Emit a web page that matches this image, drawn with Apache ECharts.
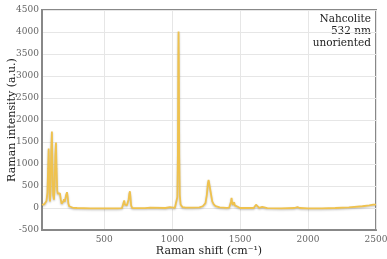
<!DOCTYPE html>
<html><head><meta charset="utf-8">
<script src="https://cdn.jsdelivr.net/npm/echarts@6/dist/echarts.min.js"></script>
<style>html,body{margin:0;padding:0;background:#fff}#c{width:387px;height:259px}</style>
</head><body><div id="c"></div>
<script>
// Raman shift (cm-1)
const shift = [42,60,75,82,87,91,95,98,101,105,110,115,119,124,130,135,140,145,149,154,158,163,168,174,180,186,193,199,204,209,214,220,226,231,236,242,250,270,300,400,500,600,630,640,647,652,660,667,673,680,685,689,693,698,705,720,800,838,850,950,983,995,1020,1032,1038,1042,1045,1047,1049,1052,1056,1062,1075,1100,1150,1200,1225,1245,1255,1263,1268,1272,1276,1285,1295,1305,1320,1350,1400,1420,1428,1433,1437,1441,1446,1452,1456,1461,1470,1500,1600,1612,1617,1622,1640,1662,1670,1700,1800,1900,1922,1940,2000,2100,2200,2300,2400,2450,2480,2500];
// Intensity (a.u.)
const intensity = [70,90,160,350,900,1350,800,250,150,400,1300,1740,1000,300,190,500,1200,1490,900,400,330,340,300,330,200,100,60,150,200,140,160,300,360,250,100,40,15,5,0,-8,-10,-10,-5,20,170,80,120,60,60,200,330,380,250,60,5,-5,-5,10,-5,0,20,0,5,40,250,1200,3300,4010,3300,1200,300,80,20,10,10,15,40,110,300,560,640,660,600,330,150,90,40,15,5,10,30,150,230,120,70,110,130,60,15,0,0,40,75,30,5,25,10,-5,-10,0,20,0,-10,-10,0,15,40,60,75,75];
const yTicks = [-500,0,500,1000,1500,2000,2500,3000,3500,4000,4500];
const xTicks = [500,1000,1500,2000,2500];
const annotation = ['Nahcolite','532 nm','unoriented'];

const data = shift.map((x,i)=>[x,intensity[i]]);
const chart = echarts.init(document.getElementById('c'), null, {renderer:'canvas'});
const serif = 'DejaVu Serif';
chart.setOption({
  animation:false,
  grid:{left:42,right:11,top:10,bottom:29,show:true,borderColor:'#888',borderWidth:2,backgroundColor:'transparent',containLabel:false,outerBoundsMode:'none'},
  xAxis:{type:'value',min:42,max:2500,splitNumber:5,
    name:'Raman shift (cm⁻¹)',nameLocation:'middle',nameGap:16,nameMoveOverlap:false,
    nameTextStyle:{fontFamily:serif,fontSize:11,color:'#222'},
    axisLine:{show:true,onZero:false,lineStyle:{color:'#888',width:2}},
    axisTick:{show:false},
    axisLabel:{fontFamily:serif,fontSize:9,color:'#666',margin:5,
      formatter:v=>xTicks.includes(v)?String(v):''},
    splitLine:{show:true,lineStyle:{color:'#e6e6e6',width:1}}},
  yAxis:{type:'value',min:yTicks[0],max:yTicks[yTicks.length-1],interval:500,
    name:'Raman intensity (a.u.)',nameLocation:'middle',nameGap:24,nameMoveOverlap:false,
    nameTextStyle:{fontFamily:serif,fontSize:11,color:'#222'},
    axisLine:{show:true,onZero:false,lineStyle:{color:'#888',width:2}},
    axisTick:{show:false},
    axisLabel:{fontFamily:serif,fontSize:9,color:'#666',margin:3,formatter:v=>String(v)},
    splitLine:{show:true,lineStyle:{color:'#e6e6e6',width:1}}},
  graphic:annotation.map((t,i)=>({type:'text',right:16,top:14+i*12,
    style:{text:t,fontFamily:serif,fontSize:10.5,fill:'#222'}})),
  series:[{type:'line',data:data,showSymbol:false,symbol:'none',
    lineStyle:{color:'#EFC24E',width:1.8,shadowColor:'rgba(0,0,0,0.25)',shadowBlur:2,shadowOffsetY:1},
    z:3}]
});
</script></body></html>
